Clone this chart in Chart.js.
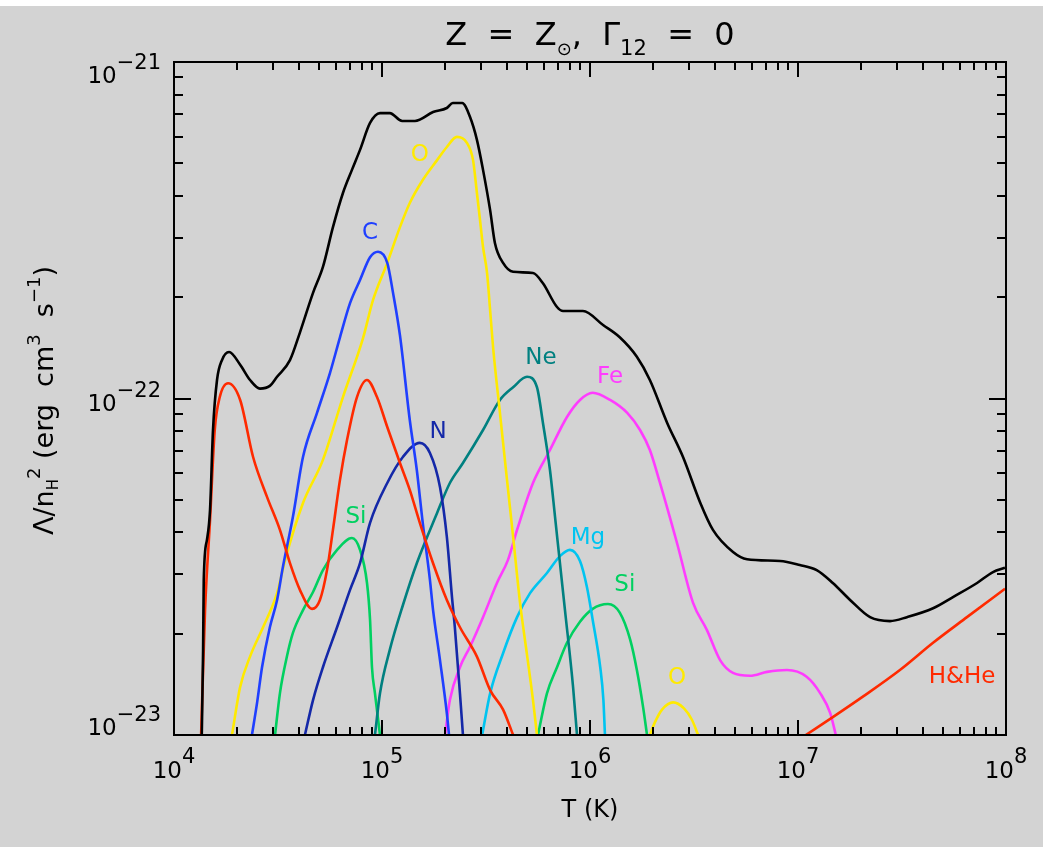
<!DOCTYPE html>
<html><head><meta charset="utf-8">
<script src="https://cdn.jsdelivr.net/npm/chart.js@4.4.1/dist/chart.umd.min.js"></script>
<style>html,body{margin:0;padding:0;background:#fff;}canvas{display:block;}</style>
</head><body>
<canvas id="c" width="1043" height="847"></canvas>
<script>
// ---------- data (T in K, Lambda/nH^2 in erg cm^3 s^-1) ----------
const totalT = [1.36e4,1.38e4,1.39e4,1.44e4,1.49e4,1.54e4,1.61e4,1.70e4,1.84e4,2.08e4,2.32e4,2.59e4,2.89e4,3.13e4,3.61e4,4.03e4,4.66e4,5.20e4,5.81e4,6.49e4,7.17e4,7.84e4,8.76e4,9.78e4,1.09e5,1.25e5,1.44e5,1.76e5,2.05e5,2.19e5,2.43e5,2.65e5,2.86e5,3.06e5,3.31e5,3.49e5,3.82e5,4.27e5,5.32e5,5.94e5,6.94e5,7.42e5,9.25e5,1.16e6,1.39e6,1.68e6,1.94e6,2.35e6,2.80e6,3.38e6,3.90e6,4.87e6,5.69e6,8.20e6,1.02e7,1.23e7,1.47e7,1.78e7,2.22e7,2.77e7,3.34e7,4.46e7,5.56e7,7.26e7,8.66e7,9.89e7];
const totalL = [1.00e-23,1.79e-23,2.89e-23,3.80e-23,4.66e-23,8.06e-23,1.135e-22,1.30e-22,1.375e-22,1.26e-22,1.135e-22,1.07e-22,1.09e-22,1.16e-22,1.30e-22,1.57e-22,2.06e-22,2.46e-22,3.23e-22,4.08e-22,4.78e-22,5.48e-22,6.59e-22,7.05e-22,7.05e-22,6.68e-22,6.68e-22,7.10e-22,7.30e-22,7.55e-22,7.55e-22,6.86e-22,5.87e-22,4.78e-22,3.63e-22,2.90e-22,2.53e-22,2.38e-22,2.36e-22,2.20e-22,1.87e-22,1.82e-22,1.82e-22,1.65e-22,1.52e-22,1.33e-22,1.135e-22,8.46e-23,6.70e-23,4.92e-23,4.07e-23,3.50e-23,3.33e-23,3.29e-23,3.20e-23,3.09e-23,2.83e-23,2.52e-23,2.24e-23,2.18e-23,2.24e-23,2.38e-23,2.57e-23,2.83e-23,3.05e-23,3.14e-23];

const hheT = [1.35e4,1.41e4,1.49e4,1.57e4,1.66e4,1.82e4,2.08e4,2.40e4,2.80e4,3.23e4,3.61e4,4.03e4,4.61e4,5.03e4,5.44e4,5.81e4,6.28e4,6.79e4,7.58e4,8.47e4,9.46e4,1.06e5,1.22e5,1.36e5,1.52e5,1.76e5,2.05e5,2.37e5,2.86e5,3.31e5,3.82e5,4.27e5,1e6,1.09e7,1.47e7,2.05e7,3.09e7,4.46e7,6.49e7,9.89e7];
const hheL = [1.0e-23,2.35e-23,4.35e-23,8.06e-23,1.01e-22,1.11e-22,9.90e-23,6.70e-23,5.10e-23,4.07e-23,3.24e-23,2.70e-23,2.37e-23,2.52e-23,3.09e-23,4.07e-23,5.73e-23,7.53e-23,1.01e-22,1.135e-22,1.01e-22,8.23e-23,6.43e-23,5.35e-23,4.27e-23,3.24e-23,2.52e-23,2.09e-23,1.71e-23,1.36e-23,1.19e-23,1.0e-23,null,1.0e-23,1.13e-23,1.30e-23,1.56e-23,1.88e-23,2.24e-23,2.72e-23];

const cT = [2.37e4,2.51e4,2.65e4,2.89e4,3.13e4,3.34e4,3.73e4,4.17e4,4.87e4,5.62e4,6.28e4,7.02e4,7.84e4,8.76e4,9.57e4,1.06e5,1.13e5,1.22e5,1.36e5,1.47e5,1.57e5,1.70e5,1.76e5,1.90e5,2.05e5,2.10e5];
const cL = [1.0e-23,1.25e-23,1.59e-23,2.09e-23,2.52e-23,3.16e-23,4.45e-23,6.70e-23,9.06e-23,1.19e-22,1.52e-22,1.92e-22,2.25e-22,2.63e-22,2.73e-22,2.53e-22,2.06e-22,1.54e-22,8.63e-23,6.13e-23,4.27e-23,2.89e-23,2.35e-23,1.67e-23,1.16e-23,1.0e-23];

const nT = [4.26e4,4.66e4,5.20e4,6.08e4,7.02e4,7.84e4,8.76e4,1.06e5,1.26e5,1.52e5,1.70e5,1.90e5,2.05e5,2.17e5,2.24e5,2.37e5,2.45e5];
const nL = [1.0e-23,1.27e-23,1.59e-23,2.09e-23,2.70e-23,3.24e-23,4.27e-23,5.61e-23,6.70e-23,7.38e-23,6.89e-23,5.46e-23,3.88e-23,2.57e-23,2.09e-23,1.33e-23,1.0e-23];

const oT = [1.90e4,2.08e4,2.32e4,2.68e4,3.13e4,3.42e4,4.17e4,5.20e4,6.49e4,8.10e4,9.05e4,1.06e5,1.22e5,1.36e5,1.57e5,1.84e5,2.05e5,2.29e5,2.56e5,2.74e5,2.86e5,2.96e5,3.06e5,3.20e5,3.31e5,3.42e5,3.69e5,3.99e5,4.27e5,4.61e5,4.98e5,5.32e5,5.56e5,1e6,1.94e6,2.05e6,2.22e6,2.51e6,2.83e6,3.09e6,3.31e6];
const oL = [1.0e-23,1.39e-23,1.71e-23,2.09e-23,2.64e-23,3.31e-23,4.89e-23,6.57e-23,1.01e-22,1.51e-22,1.96e-22,2.53e-22,3.23e-22,3.81e-22,4.46e-22,5.11e-22,5.59e-22,5.99e-22,5.75e-22,5.11e-22,4.08e-22,3.39e-22,2.82e-22,2.36e-22,1.83e-22,1.42e-22,9.06e-23,5.73e-23,3.88e-23,2.47e-23,1.73e-23,1.27e-23,1.0e-23,null,1.0e-23,1.09e-23,1.19e-23,1.25e-23,1.20e-23,1.11e-23,1.0e-23];

const neT = [9.25e4,9.78e4,1.09e5,1.26e5,1.47e5,1.84e5,2.12e5,2.45e5,3.06e5,3.69e5,4.27e5,4.98e5,5.56e5,5.94e5,6.42e5,6.79e5,7.17e5,7.58e5,8.29e5,8.66e5];
const neL = [1.0e-23,1.33e-23,1.79e-23,2.43e-23,3.24e-23,4.57e-23,5.61e-23,6.43e-23,8.06e-23,9.90e-23,1.08e-22,1.16e-22,1.08e-22,8.46e-23,6.13e-23,4.45e-23,3.24e-23,2.35e-23,1.39e-23,1.0e-23];

const mgT = [3.03e5,3.31e5,3.82e5,4.46e5,5.15e5,6.21e5,7.17e5,8.01e5,8.95e5,9.67e5,1.03e6,1.12e6,1.16e6,1.18e6];
const mgL = [1.0e-23,1.33e-23,1.75e-23,2.24e-23,2.64e-23,3.03e-23,3.40e-23,3.55e-23,3.29e-23,2.75e-23,2.20e-23,1.59e-23,1.27e-23,1.0e-23];

const siT = [3.06e4,3.23e4,3.49e4,3.73e4,4.17e4,4.66e4,5.20e4,6.08e4,7.17e4,7.84e4,8.47e4,8.76e4,8.95e4,9.25e4,9.78e4,2e5,5.62e5,6.21e5,6.94e5,7.75e5,8.95e5,1.03e6,1.22e6,1.39e6,1.56e6,1.68e6,1.80e6,1.88e6];
const siL = [1.0e-23,1.33e-23,1.71e-23,2.01e-23,2.35e-23,2.66e-23,3.09e-23,3.55e-23,3.85e-23,3.55e-23,2.83e-23,2.20e-23,1.59e-23,1.33e-23,1.0e-23,null,1.0e-23,1.33e-23,1.59e-23,1.88e-23,2.17e-23,2.37e-23,2.45e-23,2.31e-23,1.92e-23,1.56e-23,1.21e-23,1.0e-23];

const feT = [2.01e5,2.12e5,2.37e5,2.65e5,3.06e5,3.57e5,4.03e5,4.46e5,5.32e5,6.42e5,7.75e5,8.95e5,1.03e6,1.25e6,1.51e6,1.74e6,1.94e6,2.17e6,2.62e6,3.13e6,3.65e6,4.22e6,4.87e6,5.88e6,7.10e6,8.85e6,1.10e7,1.28e7,1.43e7,1.52e7];
const feL = [1.0e-23,1.27e-23,1.59e-23,1.83e-23,2.24e-23,2.83e-23,3.31e-23,4.07e-23,5.61e-23,7.03e-23,8.81e-23,9.90e-23,1.04e-22,9.90e-23,9.06e-23,8.06e-23,7.03e-23,5.61e-23,3.72e-23,2.47e-23,2.05e-23,1.67e-23,1.53e-23,1.50e-23,1.54e-23,1.56e-23,1.49e-23,1.33e-23,1.16e-23,1.0e-23];

// axis tick values and labels
const xMajorTicks = [1e4,1e5,1e6,1e7,1e8];
const xTickExps = ['4','5','6','7','8'];
const yMajorTicks = [1e-23,1e-22,1e-21];
const yTickExps = ['\u221223','\u221222','\u221221'];

// curve label annotations
const curveLabels = ['O','C','N','Ne','Fe','Si','Mg','Si','O','H&He'];
const curveLabelT = [1.52e5,8.76e4,1.86e5,5.81e5,1.25e6,7.50e4,9.78e5,1.47e6,2.62e6,6.15e7];
const curveLabelL = [5.29e-22,3.10e-22,7.95e-23,1.32e-22,1.16e-22,4.45e-23,3.85e-23,2.79e-23,1.48e-23,1.49e-23];

// ---------- styles ----------
const COL = {total:'#000000', hhe:'#ff2a00', c:'#1f3fff', n:'#1428a8', o:'#ffea00', ne:'#008080', mg:'#00c4f0', si:'#00d060', fe:'#ff3cff'};
const labelColors = [COL.o,COL.c,COL.n,COL.ne,COL.fe,COL.si,COL.mg,COL.si,COL.o,COL.hhe];
const yLabelNudge = [0,12,21];
const FONT = '"DejaVu Sans", "Liberation Sans", sans-serif';

function pts(T,L){ return T.map((t,i)=>({x:t, y:L[i]})); }
function ds(label,T,L,color){ return {label, data:pts(T,L), borderColor:color, backgroundColor:color, borderWidth:2.6, pointRadius:0, cubicInterpolationMode:'monotone', spanGaps:false, fill:false}; }

function font(s){ return s+'px '+FONT; }
function richWidth(ctx,segs){ let w=0; for(const s of segs){ ctx.font=font(s.size); w+=ctx.measureText(s.t).width; } return w; }
function drawRich(ctx,segs,x,y){ let cx=x; for(const s of segs){ ctx.font=font(s.size); ctx.fillText(s.t,cx,y+(s.dy||0)); cx+=ctx.measureText(s.t).width; } }

const idlPlugin = {
  id:'idl',
  beforeDraw(chart){
    const {ctx,width,height}=chart;
    ctx.save();
    ctx.fillStyle='#ffffff'; ctx.fillRect(0,0,width,height);
    ctx.fillStyle='#d3d3d3'; ctx.fillRect(0,6,width,height-6);
    ctx.restore();
  },
  afterDatasetsDraw(chart){
    const {ctx,chartArea:a,scales:{x,y}}=chart;
    ctx.save();
    ctx.strokeStyle='#000'; ctx.fillStyle='#000'; ctx.lineWidth=2;
    ctx.strokeRect(a.left,a.top,a.right-a.left,a.bottom-a.top);
    ctx.beginPath();
    for(let d=0; d<xMajorTicks.length; d++){
      const base=xMajorTicks[d];
      for(let m=1;m<=9;m++){
        const v=base*m; if(v>1e8) break;
        const px=Math.round(x.getPixelForValue(v));
        const len = m===1?15:8;
        ctx.moveTo(px,a.bottom); ctx.lineTo(px,a.bottom-len);
        ctx.moveTo(px,a.top); ctx.lineTo(px,a.top+len);
      }
    }
    for(let d=0; d<yMajorTicks.length; d++){
      const base=yMajorTicks[d];
      for(let m=1;m<=9;m++){
        const v=base*m; if(v>1e-21*1.0001) break;
        const py=Math.round(y.getPixelForValue(v));
        const len = m===1?17:9;
        ctx.moveTo(a.left,py); ctx.lineTo(a.left+len,py);
        ctx.moveTo(a.right,py); ctx.lineTo(a.right-len,py);
      }
    }
    ctx.stroke();
    ctx.textBaseline='alphabetic'; ctx.textAlign='left';
    xMajorTicks.forEach((v,i)=>{
      const segs=[{t:'10',size:23},{t:xTickExps[i],size:21,dy:-15}];
      const w=richWidth(ctx,segs);
      drawRich(ctx,segs,x.getPixelForValue(v)-w/2,778);
    });
    yMajorTicks.forEach((v,i)=>{
      const segs=[{t:'10',size:23},{t:'',size:10},{t:yTickExps[i],size:21,dy:-14}];
      const w=richWidth(ctx,segs);
      drawRich(ctx,segs,161-w,y.getPixelForValue(v)+yLabelNudge[i]);
    });
    ctx.font=font(24); ctx.textAlign='center';
    ctx.fillText('T (K)',(a.left+a.right)/2,817);
    ctx.save();
    ctx.translate(53,(a.top+a.bottom)/2+2);
    ctx.rotate(-Math.PI/2);
    ctx.textAlign='left';
    const ysegs=[{t:'\u039b/n',size:27},{t:'H',size:15,dy:5},{t:'2',size:18,dy:-13},{t:' (erg  cm',size:27},{t:'3',size:18,dy:-13},{t:'  s',size:27},{t:'\u22121',size:18,dy:-13},{t:')',size:27}];
    const yw=richWidth(ctx,ysegs);
    drawRich(ctx,ysegs,-yw/2,0);
    ctx.restore();
    ctx.textAlign='left';
    const tsegs=[{t:'Z  =  Z',size:32},{t:'\u2299',size:18,dy:10},{t:',  \u0393',size:32},{t:'12',size:21,dy:10},{t:'  =  0',size:32}];
    const tw=richWidth(ctx,tsegs);
    drawRich(ctx,tsegs,(a.left+a.right)/2-tw/2,45);
    ctx.textAlign='center'; ctx.textBaseline='middle'; ctx.font=font(23);
    curveLabels.forEach((t,i)=>{
      ctx.fillStyle=labelColors[i];
      ctx.fillText(t,x.getPixelForValue(curveLabelT[i]),y.getPixelForValue(curveLabelL[i]));
    });
    ctx.restore();
  }
};

new Chart(document.getElementById('c'),{
  type:'line',
  data:{datasets:[
    ds('Total',totalT,totalL,COL.total),
    ds('H&He',hheT,hheL,COL.hhe),
    ds('C',cT,cL,COL.c),
    ds('N',nT,nL,COL.n),
    ds('O',oT,oL,COL.o),
    ds('Ne',neT,neL,COL.ne),
    ds('Mg',mgT,mgL,COL.mg),
    ds('Si',siT,siL,COL.si),
    ds('Fe',feT,feL,COL.fe)
  ]},
  options:{
    responsive:false, animation:false, devicePixelRatio:1,
    layout:{padding:{left:174,top:62,right:37,bottom:112}},
    plugins:{legend:{display:false},tooltip:{enabled:false},title:{display:false}},
    scales:{
      x:{type:'logarithmic',min:1e4,max:1e8,display:false},
      y:{type:'logarithmic',min:1e-23,max:1e-21,display:false}
    }
  },
  plugins:[idlPlugin]
});
</script>
</body></html>
